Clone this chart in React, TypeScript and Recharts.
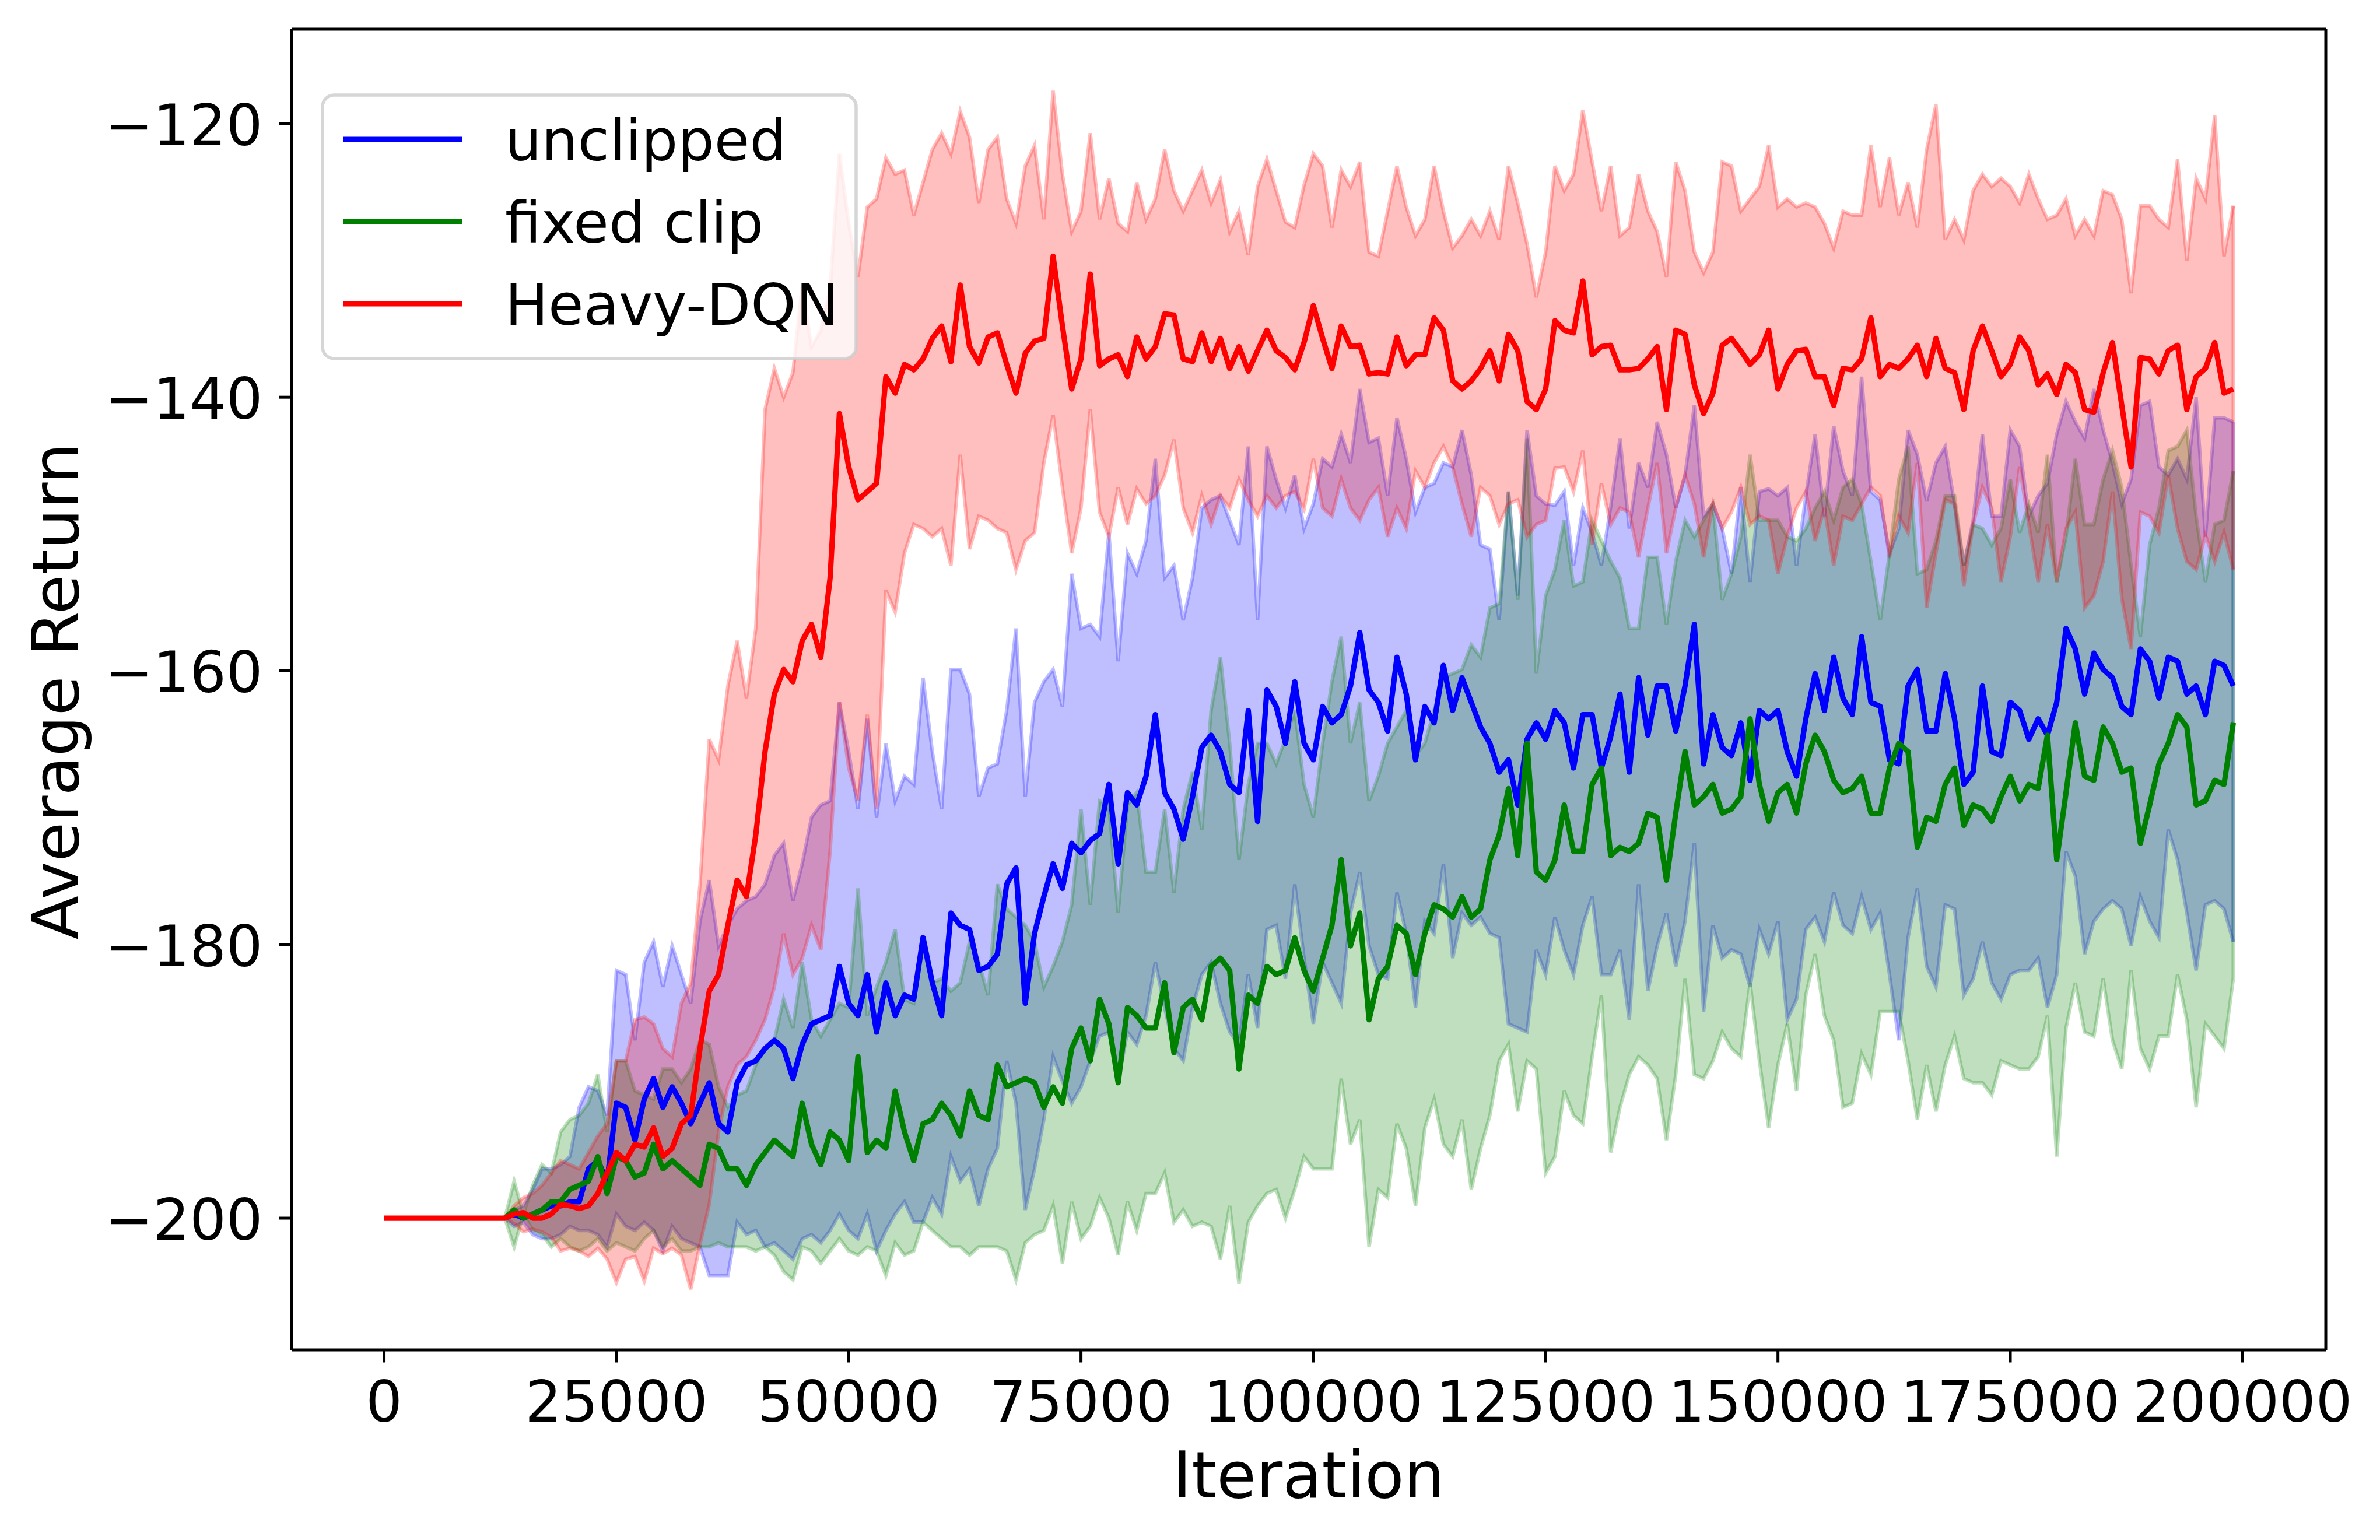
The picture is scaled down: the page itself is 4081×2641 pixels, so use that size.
import React from 'react';
import { ComposedChart, Line, Area, XAxis, YAxis, Legend, ReferenceLine } from 'recharts';

const WIDTH = 4081;
const HEIGHT = 2641;
const FONT = 'DejaVu Sans';
const STEP = 1000;
const BAND_START_INDEX = 13;

const X_DOMAIN = [-9950, 208950];
const Y_DOMAIN = [-209.63, -113.1];
const X_TICKS = [0, 25000, 50000, 75000, 100000, 125000, 150000, 175000, 200000];
const Y_TICKS = [-200, -180, -160, -140, -120];

const SERIES_NAMES = ['unclipped', 'fixed clip', 'Heavy-DQN'];
const SERIES_COLORS = ['#0000ff', '#008000', '#ff0000'];

// Heavy-DQN mean, iterations 0..199000
const HEAVY_MEAN = [
  -200, -200, -200, -200, -200, -200, -200, -200, -200, -200, -200, -200, -200,
  -200, -199.7, -199.6, -200, -200, -199.7, -199, -199.1, -199.3, -199.1,
  -198.2, -196.7, -195.2, -195.8, -194.6, -194.8, -193.4, -195.5, -194.9, -193.1,
  -192.5, -187.6, -183.4, -182.2, -178.6, -175.3, -176.5, -172, -165.9, -161.7,
  -159.9, -160.8, -157.8, -156.6, -159, -153.2, -141.2, -145.1, -147.5, -146.9,
  -146.3, -138.5, -139.7, -137.6, -138, -137.2, -135.7, -134.8, -137.4, -131.8,
  -136.3, -137.5, -135.6, -135.3, -137.6, -139.7, -136.8, -135.9, -135.7, -129.7,
  -134.8, -139.4, -137.2, -131, -137.7, -137.2, -136.9, -138.5, -135.6, -137.2,
  -136.3, -133.9, -134, -137.2, -137.4, -135.3, -137.4, -135.7, -137.9, -136.3,
  -138.1, -136.6, -135.1, -136.6, -137.1, -138, -136, -133.3, -135.7, -137.9,
  -134.8, -136.3, -136.2, -138.3, -138.2, -138.3, -135.6, -137.7, -136.9, -136.9,
  -134.2, -135.1, -138.8, -139.4, -138.8, -137.9, -136.6, -138.8, -135.4, -136.6,
  -140.3, -140.9, -139.4, -134.4, -135.1, -135.3, -131.5, -136.9, -136.3, -136.2,
  -138, -138, -137.9, -137.2, -136.3, -140.9, -135.1, -135.4, -139.1, -141.2,
  -139.7, -136.2, -135.7, -136.6, -137.6, -136.9, -135.1, -139.4, -137.6, -136.6,
  -136.5, -138.5, -138.5, -140.6, -137.9, -138, -137.2, -134.2, -138.5, -137.6,
  -137.9, -137.2, -136.2, -138.5, -135.7, -137.9, -138.2, -140.9, -136.6, -134.8,
  -136.6, -138.5, -137.6, -135.6, -136.6, -139.1, -138.3, -139.8, -137.6, -138.2,
  -140.9, -141.1, -138.2, -136, -140.6, -145.1, -137.1, -137.2, -138.3, -136.6,
  -136.2, -140.9, -138.5, -137.9, -136, -139.7, -139.4,
];

// The following arrays start at iteration 13000
const HEAVY_HIGH = [
  -200, -199.1, -198.5, -198.2, -197.6, -196.7, -195.8, -196.1, -196.4, -195.2,
  -194, -193.1, -188.5, -188.5, -185.5, -185.3, -185.8, -187.6, -188.2, -184.3,
  -182.8, -175.6, -165, -166.5, -161.1, -157.8, -162, -156.9, -140.9, -137.9,
  -140, -138.2, -131.8, -136.3, -135.1, -132.1, -122.2, -127.3, -131.2, -126.1,
  -125.5, -122.5, -123.7, -123.4, -126.7, -124.3, -121.9, -120.7, -122.2, -119.1,
  -121, -125.8, -121.9, -121, -125.5, -127.3, -123.1, -121.6, -127, -117.6,
  -123.7, -127.9, -126.4, -120.7, -127, -124, -127.3, -127.9, -124.3, -127,
  -125.5, -121.9, -124.9, -126.4, -124.9, -123.4, -125.8, -124.1, -127.9, -126.4,
  -129.6, -124.6, -122.6, -124.9, -127.2, -127.6, -124.5, -122.2, -123.1, -127.6,
  -123.4, -124.6, -122.8, -129.4, -129.7, -126.4, -123.1, -126.1, -128.2, -127,
  -123.1, -126.4, -129.1, -128.2, -127, -128.2, -126.4, -128.5, -123.1, -125.8,
  -128.8, -132.7, -129.4, -123.1, -124.9, -123.7, -119, -122.8, -126.4, -123.1,
  -128.2, -127.6, -123.7, -126.4, -127.9, -131.2, -122.8, -124.9, -129.4, -130.9,
  -129.4, -122.8, -123.1, -126.4, -125.5, -124.6, -121.6, -126.1, -125.5, -126.1,
  -125.8, -126.1, -127.3, -129.1, -126.4, -126.7, -126.7, -121.6, -126.1, -122.5,
  -126.7, -124.3, -127.6, -121.9, -118.6, -128.5, -127, -128.5, -124.9, -123.7,
  -124.6, -124, -124.6, -125.8, -123.7, -125.5, -127, -126.7, -125.5, -128.2,
  -127, -128.2, -124.9, -125.2, -127, -132.4, -126, -126, -127, -127.6,
  -122.6, -130, -124, -125.5, -119.4, -129.7, -126,
];
const HEAVY_LOW = [
  -200, -200.4, -201, -200.8, -201, -201.4, -202.4, -202.2, -202.4, -202.8,
  -202.2, -203, -204.7, -203, -202.8, -204.6, -202.2, -202.6, -202.2, -202.7,
  -205.2, -201.9, -199, -193.7, -190.4, -188.8, -188.2, -187, -185.5, -183.1,
  -179.2, -182.2, -181, -178.6, -180.4, -173.2, -162.3, -167.1, -169.5, -163.2,
  -170.1, -154.1, -155.7, -151.4, -149.3, -149.6, -150.2, -149.6, -152.3, -144.2,
  -151.1, -148.7, -149, -149.6, -149.9, -152.6, -150.5, -149.9, -144.8, -141.3,
  -146.6, -151.4, -148.1, -140.9, -148.4, -150.2, -146.6, -149.3, -146.7, -147.8,
  -147.2, -145.7, -143.1, -148.1, -149.9, -147.2, -149.3, -147.2, -148.1, -146,
  -147.5, -148.7, -147.2, -148.1, -147.2, -146.9, -148.2, -144.5, -148.1, -148.7,
  -146, -148.1, -149, -147.5, -146.6, -150.2, -148.1, -149.6, -145.4, -146.6,
  -144.8, -143.6, -145.1, -147.8, -150.2, -146.6, -147.2, -149.3, -147.8, -147.5,
  -150.2, -149.3, -149, -145.2, -145.1, -146.9, -143.9, -150.8, -146.3, -149.3,
  -148.1, -148.4, -151.7, -148.1, -144.8, -151.4, -148.1, -145.7, -147.8, -151.7,
  -147.8, -149.6, -148.4, -146.6, -149.3, -148.7, -149, -152.9, -150.2, -148.1,
  -146.9, -150.5, -148.1, -152.3, -148.7, -149, -147.8, -146.6, -147.2, -151.7,
  -148.7, -149.9, -144.8, -155.4, -151.4, -147.5, -147.8, -153.8, -149.3, -146.6,
  -148.1, -153.5, -150.2, -145.1, -149.3, -153.5, -149.3, -153.5, -149.6, -148.4,
  -155.4, -154.5, -152, -146.9, -154.7, -158.4, -148.4, -148.7, -149.9, -145.7,
  -149.6, -152, -152.6, -150.1, -152, -149.9, -152.6,
];

const UNCLIPPED_MEAN = [
  -200, -199.7, -200, -199.7, -199.4, -199.1, -199.1, -198.8, -198.8, -196.4,
  -195.8, -197.3, -191.6, -191.9, -194.3, -191.3, -189.8, -191.9, -190.4, -191.6,
  -193.1, -191.6, -190.1, -193.1, -193.7, -190.1, -188.8, -188.5, -187.6, -187,
  -187.6, -189.8, -187.3, -185.8, -185.5, -185.2, -181.6, -184.3, -185.2, -182.2,
  -186.4, -182.8, -185.2, -183.7, -184, -179.5, -182.8, -185.2, -177.7, -178.6,
  -178.9, -181.9, -181.6, -180.7, -175.6, -174.4, -184.3, -179.2, -176.5, -174.1,
  -175.9, -172.6, -173.3, -172.4, -171.9, -168.3, -174.1, -168.9, -169.8, -167.7,
  -163.2, -168.9, -170.1, -172.3, -169.2, -165.6, -164.7, -165.9, -168.3, -168.9,
  -162.9, -171, -161.4, -162.6, -165.3, -160.8, -165.3, -166.5, -162.6, -163.8,
  -163.2, -161.1, -157.2, -161.4, -162.3, -164.4, -159, -161.7, -166.5, -162.6,
  -163.8, -159.6, -162.9, -160.5, -162.3, -164.1, -165.3, -167.4, -166.5, -169.8,
  -165, -163.8, -165, -162.9, -163.8, -167.1, -163.2, -163.2, -167.1, -164.8,
  -161.7, -167.4, -160.5, -164.7, -161.1, -161.1, -164.4, -161.1, -156.6, -166.8,
  -163.2, -165.6, -166.2, -163.8, -168, -162.9, -163.5, -162.9, -165.9, -167.7,
  -163.5, -160.2, -162.9, -159, -162, -163.2, -157.5, -162.3, -162.6, -166.5,
  -166.8, -161.1, -159.9, -164.4, -164.4, -160.2, -163.5, -168.3, -167.4, -161.1,
  -165.9, -166.2, -162.3, -162.9, -165, -163.5, -164.7, -162.3, -156.9, -158.4,
  -161.7, -158.7, -159.9, -160.5, -162.6, -163.2, -158.4, -159.3, -162, -159,
  -159.3, -161.7, -161.1, -163.2, -159.3, -159.6, -161.1,
];
const UNCLIPPED_HIGH = [
  -200, -199.4, -199.1, -197.9, -196.4, -196.4, -196.1, -195.5, -191.9, -190.4,
  -190.7, -192.5, -181.9, -182.2, -187, -181.3, -179.8, -183.1, -180.1, -182.2,
  -184.3, -178.3, -175.3, -180.1, -178.6, -177.4, -176.8, -176.5, -175.6, -173.5,
  -172.6, -176.8, -174.1, -170.7, -169.8, -169.5, -162.3, -165.9, -170.1, -163.5,
  -170.7, -165.3, -169.5, -167.7, -168.3, -160.5, -165.9, -170.1, -159.9, -159.9,
  -161.7, -169.2, -167.1, -166.8, -162.9, -156.9, -169.2, -162.3, -160.8, -159.9,
  -162.6, -152.9, -156.9, -156.6, -157.5, -149.9, -159.3, -151.4, -152.9, -150.5,
  -144.5, -153.2, -152.3, -156.3, -153.2, -148.1, -147.5, -147.2, -149, -150.8,
  -143.6, -156.3, -143.6, -146, -148.1, -145.7, -149.6, -147.8, -144.5, -145.1,
  -142.7, -144.8, -139.4, -143.3, -143, -147.2, -141.5, -144.5, -148.4, -146.6,
  -146.3, -144.8, -145.1, -142.4, -145.7, -150.8, -151.1, -156.3, -146.9, -154.5,
  -142.4, -147.2, -147.8, -147.9, -146.9, -152.3, -148.1, -149.9, -152.3, -148,
  -143, -149.6, -144.8, -146.6, -141.8, -144.2, -148.1, -145.7, -140.6, -148.7,
  -147.8, -149.6, -152.9, -146.6, -153.5, -146.9, -146.7, -147.2, -146.6, -152.3,
  -147.2, -142.7, -148.7, -142.1, -145.4, -147.2, -138.5, -146.9, -147.5, -151.4,
  -149.6, -142.4, -144.2, -147.6, -144.8, -143.6, -147.8, -152.3, -149, -142.7,
  -148.7, -148.7, -142.4, -143.6, -148.7, -147.2, -146.3, -142.7, -140.3, -141.8,
  -143, -139.4, -142.4, -144.8, -147.8, -146, -140.6, -140.3, -145.1, -145.7,
  -144.5, -146, -140, -150.2, -141.5, -141.5, -141.8,
];
const UNCLIPPED_LOW = [
  -200, -200.6, -200.3, -201.2, -201.5, -201.5, -201.2, -200.6, -200.9, -200.9,
  -201.2, -202.1, -199.7, -200.6, -200.9, -200.3, -200.9, -202.4, -200.6, -201.5,
  -201.8, -202.1, -204.2, -204.2, -204.2, -200.3, -201.2, -200.9, -202.1, -201.8,
  -202.4, -203, -201.5, -201.2, -201.8, -200.9, -199.7, -200.9, -201.5, -199.7,
  -202.4, -200.9, -199.7, -198.8, -200.3, -200.3, -198.5, -199.7, -195.5, -197.3,
  -196.4, -199.1, -196.4, -194.9, -188.5, -191.6, -199.4, -196.4, -192.8, -188.2,
  -190, -191.6, -190.4, -188.5, -186.7, -186.4, -190, -186.4, -187.3, -185.2,
  -181.3, -184.6, -187.6, -188.5, -184.6, -182.2, -181.3, -184.3, -186.4, -187.3,
  -182.2, -186.1, -178.9, -178.6, -182.5, -175.6, -181, -185.8, -181.3, -182.8,
  -184.3, -177.7, -174.7, -180.1, -182.2, -182.5, -176.2, -179.2, -184.6, -178.3,
  -179.2, -174.1, -181, -177.7, -178.6, -178, -179.2, -179.5, -185.8, -186.1,
  -186.4, -180.4, -182.2, -178, -180.4, -182.2, -178.6, -176.5, -182.2, -182.2,
  -180.4, -185.5, -175.6, -183.4, -180.1, -177.7, -181.6, -178.3, -172.6, -184.9,
  -178.6, -181, -180.4, -180.7, -183.1, -178.9, -180.7, -178.3, -185.5, -184,
  -178.9, -178, -179.8, -176.2, -178.6, -179.2, -176.5, -178.9, -177.7, -182.2,
  -187, -179.5, -175.9, -181.6, -183.1, -177.1, -177.4, -183.7, -182.5, -179.8,
  -182.8, -184, -182.2, -181.9, -181.9, -181, -184.6, -182.2, -173.2, -175,
  -180.7, -178.3, -177.4, -176.8, -177.4, -180.1, -176.5, -178.3, -179.5, -171.6,
  -173.8, -177.7, -181.9, -177.1, -176.8, -177.4, -179.8,
];

const FIXED_MEAN = [
  -200, -199.4, -200, -199.7, -199.4, -198.8, -198.8, -197.9, -197.6, -197.3,
  -195.5, -198.2, -195.5, -195.8, -197, -196.7, -194.6, -196.4, -195.8, -196.4,
  -197, -197.6, -194.6, -194.9, -196.4, -196.4, -197.6, -196.1, -195.2, -194.3,
  -194.9, -195.5, -191.6, -194.6, -196.1, -193.7, -194.3, -195.8, -188.2, -195.2,
  -194.3, -194.9, -190.7, -193.7, -195.8, -193.1, -192.8, -191.6, -192.5, -194,
  -190.7, -192.5, -192.8, -188.8, -190.4, -190.1, -189.8, -190.1, -191.9, -190.4,
  -191.6, -187.6, -186.1, -188.5, -184, -185.8, -190.1, -184.6, -185.2, -186.1,
  -186.1, -182.8, -187.9, -184.6, -184, -185.5, -181.6, -181, -181.9, -189.1,
  -183.7, -184.3, -181.6, -182.2, -181.9, -179.5, -181.9, -183.4, -181, -178.6,
  -173.8, -180.1, -177.7, -185.5, -182.5, -181.6, -178.6, -179.2, -182.2, -179.2,
  -177.1, -177.4, -178, -176.5, -178, -177.4, -173.8, -172, -168.6, -173.5,
  -165.3, -174.7, -175.3, -173.8, -169.8, -173.2, -173.2, -168.3, -167.1, -173.5,
  -172.9, -173.2, -172.6, -170.4, -170.7, -175.3, -170.4, -165.9, -169.8, -169.2,
  -168.3, -170.4, -170.1, -169.2, -163.5, -168.3, -171, -168.9, -168.3, -170.4,
  -166.8, -164.7, -165.9, -168, -168.9, -168.6, -167.7, -170.4, -170.4, -167.1,
  -165.3, -165.9, -172.9, -170.7, -171, -168.3, -167.1, -171.3, -169.8, -170.1,
  -171, -169.2, -167.7, -169.5, -168.3, -168.6, -164.7, -173.8, -168.9, -163.8,
  -167.7, -168, -164.1, -165.3, -167.4, -167.1, -172.6, -169.8, -166.8, -165.3,
  -163.2, -164.1, -169.8, -169.5, -168, -168.3, -163.8,
];
const FIXED_HIGH = [
  -200, -197.3, -199.7, -197.6, -196.1, -196.7, -193.7, -192.8, -192.5, -191.6,
  -189.5, -193.7, -188.5, -188.5, -190.7, -191, -191.3, -189.1, -189.1, -190.1,
  -189.1, -187, -187.3, -190.4, -191.9, -191, -190.7, -188.8, -187.6, -187,
  -184, -186.1, -181.3, -185.5, -186.7, -185.5, -184.3, -184.6, -175.9, -185.2,
  -183.1, -181.3, -178.9, -184, -184.3, -180.1, -182.8, -182.5, -183.4, -182.8,
  -179.8, -181.3, -183.7, -175.6, -177.4, -178, -178.6, -179.8, -183.1, -181.6,
  -179.8, -177.1, -170.1, -177.1, -169.5, -169.8, -177.7, -169.8, -168.9, -174.7,
  -174.7, -170.1, -176.2, -170.1, -167.4, -171.6, -162.9, -159, -165.3, -173.8,
  -168.3, -165.3, -165.3, -166.8, -165, -162.9, -168.3, -170.7, -165.3, -160.8,
  -157.5, -165.3, -162.3, -169.5, -167.7, -165.3, -164.1, -162.9, -166.2, -165.3,
  -162.9, -160.5, -160.2, -159.9, -158.1, -159, -155.4, -155.1, -146.9, -154.8,
  -143, -160.2, -154.5, -152.6, -149, -153.8, -153.5, -149, -150.5, -152,
  -153.2, -156.9, -156.9, -151.7, -151.7, -156.6, -152, -149, -150.2, -149,
  -147.8, -154.8, -152.9, -150.2, -144.2, -149, -149, -149, -150.2, -150.5,
  -149.6, -148.1, -146.9, -149, -146.6, -146, -147.8, -152, -156.3, -151.4,
  -146, -143.6, -152.9, -152.6, -150.5, -147.2, -147.2, -152.3, -149.3, -149.6,
  -150.8, -149.6, -146, -149.9, -147.8, -149.9, -144.2, -153.5, -150.2, -144.5,
  -149.3, -149.3, -146, -143.9, -146.6, -152.3, -157.5, -150.8, -148.1, -143.9,
  -143.6, -142.4, -148.7, -153.5, -149.3, -149, -145.4,
];
const FIXED_LOW = [
  -200, -202.1, -199.7, -200.9, -201.2, -202.1, -201.5, -202.1, -202.4, -202.1,
  -201.5, -202.4, -201.8, -202.1, -202.4, -201.5, -200.9, -202.1, -201.5, -202.4,
  -202.4, -202.1, -202.1, -201.8, -202.1, -202.1, -202.1, -202.4, -202.1, -202.7,
  -203.9, -204.5, -202.1, -202.4, -203.3, -202.4, -201.5, -202.4, -202.7, -202.1,
  -202.4, -204.2, -201.8, -202.7, -202.4, -200.3, -200.9, -201.5, -202.1, -202.1,
  -202.7, -202.1, -202.1, -202.1, -202.4, -204.5, -201.8, -201.2, -200.9, -199.1,
  -203.3, -198.8, -201.5, -200.6, -198.5, -200, -202.7, -198.8, -200.9, -198.2,
  -198.2, -196.7, -200.3, -199.4, -200.6, -200.3, -200.6, -203, -199.1, -204.8,
  -200.3, -199.1, -198.2, -197.9, -200, -197.9, -195.5, -196.4, -196.4, -196.4,
  -189.8, -194.6, -192.8, -202.1, -197.9, -198.5, -193.1, -194.9, -199.1, -193.4,
  -191.3, -194.6, -195.5, -192.8, -197.9, -194.9, -192.5, -188.5, -187.3, -192.2,
  -188.5, -189.1, -196.7, -195.5, -190.7, -192.5, -193.1, -188.2, -183.7, -195.2,
  -191.9, -189.5, -188.2, -188.8, -189.8, -194.3, -189.5, -182.5, -189.5, -189.8,
  -188.5, -186.4, -187.6, -188.2, -182.8, -188.5, -193.4, -188.8, -185.8, -190.7,
  -183.7, -180.7, -185.2, -187, -191.9, -191.6, -188, -189.5, -184.9, -184.9,
  -184.9, -188.5, -192.8, -188.8, -192.2, -188.8, -186.7, -189.8, -190.1, -190.1,
  -191, -188.5, -188.8, -189.1, -189.1, -188.2, -185.2, -195.5, -186.1, -182.8,
  -186.4, -186.7, -182.5, -187, -189.1, -181.9, -187.6, -189.1, -186.7, -186.7,
  -182.2, -185.5, -191.9, -185.8, -186.7, -187.6, -182.5,
];

const ITERATIONS = HEAVY_MEAN.map((_, i) => i * STEP);

const heavyData = HEAVY_MEAN.map((v, i) => ({ x: ITERATIONS[i], heavy: v }));

const bandData = FIXED_MEAN.map((_, j) => ({
  x: ITERATIONS[j + BAND_START_INDEX],
  unclipped: UNCLIPPED_MEAN[j],
  fixed: FIXED_MEAN[j],
  unclippedBand: [UNCLIPPED_LOW[j], UNCLIPPED_HIGH[j]],
  fixedBand: [FIXED_LOW[j], FIXED_HIGH[j]],
  heavyBand: [HEAVY_LOW[j], HEAVY_HIGH[j]],
}));

const LAST = FIXED_MEAN.length - 1;
const LAST_X = ITERATIONS[LAST + BAND_START_INDEX];
const BAND_ENDS = [
  { low: UNCLIPPED_LOW[LAST], high: UNCLIPPED_HIGH[LAST], color: SERIES_COLORS[0] },
  { low: FIXED_LOW[LAST], high: FIXED_HIGH[LAST], color: SERIES_COLORS[1] },
  { low: HEAVY_LOW[LAST], high: HEAVY_HIGH[LAST], color: SERIES_COLORS[2] },
];

const fmtY = (v: number) => (v < 0 ? '\u2212' + Math.abs(v) : String(v));

const XTick = (props: any) => {
  const { x, y, payload } = props;
  return (
    <text x={x} y={y + 101.5} textAnchor="middle" fontSize={98.5} fontFamily={FONT} fill="#000">
      {String(payload.value)}
    </text>
  );
};

const YTick = (props: any) => {
  const { x, y, payload } = props;
  return (
    <text x={x} y={y + 37} textAnchor="end" fontSize={98.5} fontFamily={FONT} fill="#000">
      {fmtY(payload.value)}
    </text>
  );
};

const XLabel = (props: any) => {
  const vb = props.viewBox || { x: 500, y: 2315, width: 3488, height: 200 };
  return (
    <text x={vb.x + vb.width / 2} y={vb.y + 253} textAnchor="middle" fontSize={110} fontFamily={FONT} fill="#000">
      Iteration
    </text>
  );
};

const YLabel = (props: any) => {
  const vb = props.viewBox || { x: 200, y: 50, width: 300, height: 2265 };
  const cx = vb.x - 66;
  const cy = vb.y + vb.height / 2 + 3;
  return (
    <text
      x={cx}
      y={cy}
      transform={`rotate(-90, ${cx}, ${cy})`}
      textAnchor="middle"
      fontSize={110}
      fontFamily={FONT}
      fill="#000"
    >
      Average Return
    </text>
  );
};

const LegendBox = () => (
  <svg width={930} height={470} style={{ display: 'block', overflow: 'visible' }}>
    <rect
      x={3}
      y={3}
      width={915}
      height={452}
      rx={20}
      ry={20}
      fill="#ffffff"
      fillOpacity={0.8}
      stroke="#cccccc"
      strokeOpacity={0.8}
      strokeWidth={5.5}
    />
    {SERIES_NAMES.map((name, i) => (
      <g key={name}>
        <line x1={38} x2={242} y1={79 + i * 141} y2={79 + i * 141} stroke={SERIES_COLORS[i]} strokeWidth={9.2} />
        <text x={316} y={79 + i * 141 + 36} fontSize={98.5} fontFamily={FONT} fill="#000">
          {name}
        </text>
      </g>
    ))}
  </svg>
);

export default function App() {
  return (
    <div style={{ position: 'absolute', left: 0, top: 0, width: WIDTH, height: HEIGHT, background: '#fff' }}>
      <ComposedChart
        width={WIDTH}
        height={HEIGHT}
        data={bandData}
        margin={{ top: 50, right: 93, bottom: 126, left: 200 }}
      >
        <XAxis
          dataKey="x"
          type="number"
          domain={X_DOMAIN}
          ticks={X_TICKS}
          allowDataOverflow
          height={200}
          tickSize={21.5}
          tickMargin={0}
          tick={XTick}
          axisLine={{ stroke: '#000', strokeWidth: 5 }}
          tickLine={{ stroke: '#000', strokeWidth: 5 }}
          label={XLabel}
        />
        <YAxis
          type="number"
          domain={Y_DOMAIN}
          ticks={Y_TICKS}
          allowDataOverflow
          width={300}
          tickSize={21.5}
          tickMargin={28}
          tick={YTick}
          axisLine={{ stroke: '#000', strokeWidth: 5 }}
          tickLine={{ stroke: '#000', strokeWidth: 5 }}
          label={YLabel}
        />

        <Area
          type="linear"
          dataKey="unclippedBand"
          stroke={SERIES_COLORS[0]}
          strokeOpacity={0.25}
          strokeWidth={6}
          fill={SERIES_COLORS[0]}
          fillOpacity={0.25}
          isAnimationActive={false}
          dot={false}
          activeDot={false}
          legendType="none"
        />
        <Area
          type="linear"
          dataKey="fixedBand"
          stroke={SERIES_COLORS[1]}
          strokeOpacity={0.25}
          strokeWidth={6}
          fill={SERIES_COLORS[1]}
          fillOpacity={0.25}
          isAnimationActive={false}
          dot={false}
          activeDot={false}
          legendType="none"
        />
        <Area
          type="linear"
          dataKey="heavyBand"
          stroke={SERIES_COLORS[2]}
          strokeOpacity={0.25}
          strokeWidth={6}
          fill={SERIES_COLORS[2]}
          fillOpacity={0.25}
          isAnimationActive={false}
          dot={false}
          activeDot={false}
          legendType="none"
        />

        {BAND_ENDS.map((b, i) => (
          <ReferenceLine
            key={'end' + i}
            segment={[
              { x: LAST_X, y: b.low },
              { x: LAST_X, y: b.high },
            ]}
            stroke={b.color}
            strokeOpacity={0.25}
            strokeWidth={6}
          />
        ))}

        <Line
          type="linear"
          dataKey="unclipped"
          name={SERIES_NAMES[0]}
          stroke={SERIES_COLORS[0]}
          strokeWidth={9.2}
          strokeLinejoin="round"
          dot={false}
          activeDot={false}
          isAnimationActive={false}
        />
        <Line
          type="linear"
          dataKey="fixed"
          name={SERIES_NAMES[1]}
          stroke={SERIES_COLORS[1]}
          strokeWidth={9.2}
          strokeLinejoin="round"
          dot={false}
          activeDot={false}
          isAnimationActive={false}
        />
        <Line
          type="linear"
          data={heavyData}
          dataKey="heavy"
          name={SERIES_NAMES[2]}
          stroke={SERIES_COLORS[2]}
          strokeWidth={9.2}
          strokeLinejoin="round"
          dot={false}
          activeDot={false}
          isAnimationActive={false}
        />

        {/* top and right spines of the axes frame */}
        <ReferenceLine y={Y_DOMAIN[1]} stroke="#000" strokeWidth={5} ifOverflow="visible" />
        <ReferenceLine x={X_DOMAIN[1]} stroke="#000" strokeWidth={5} ifOverflow="visible" />

        <Legend
          layout="vertical"
          align="center"
          verticalAlign="middle"
          width={930}
          height={470}
          content={LegendBox}
          wrapperStyle={{ position: 'absolute', left: 550, top: 160, width: 930, height: 470 }}
        />
      </ComposedChart>
    </div>
  );
}
